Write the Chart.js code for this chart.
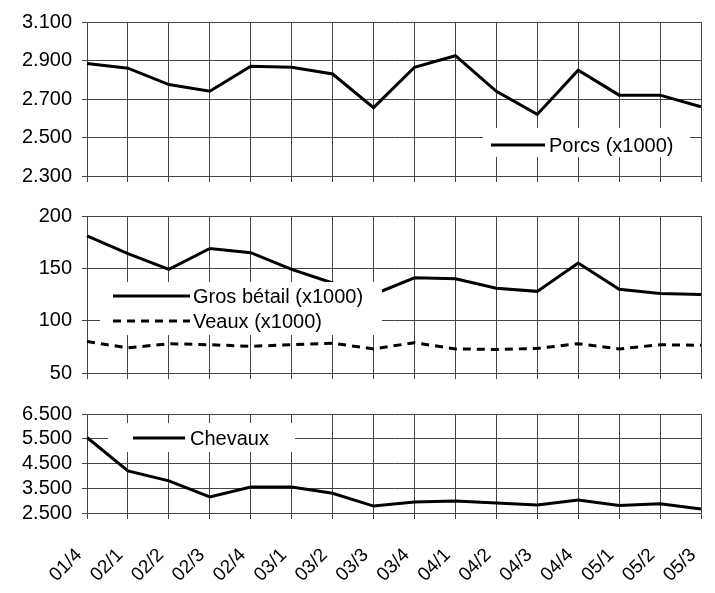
<!DOCTYPE html>
<html>
<head>
<meta charset="utf-8">
<script src="https://cdn.jsdelivr.net/npm/chart.js@4.4.1/dist/chart.umd.min.js"></script>
<style>
  body { margin: 0; background: #fff; }
  #wrap { position: relative; width: 715px; height: 593px; }
  canvas { position: absolute; left: 0; top: 0; }
</style>
</head>
<body>
<div id="wrap">
  <canvas id="cPorcs" width="715" height="593"></canvas>
  <canvas id="cBovins" width="715" height="593"></canvas>
  <canvas id="cChevaux" width="715" height="593"></canvas>
</div>
<script>
const trimestres = ['01/4', '02/1', '02/2', '02/3', '02/4', '03/1', '03/2', '03/3',
                    '03/4', '04/1', '04/2', '04/3', '04/4', '05/1', '05/2', '05/3'];

const porcs = [2885, 2860, 2775, 2740, 2870, 2865, 2830, 2655, 2865, 2925, 2740, 2620, 2850, 2720, 2720, 2660];
const grosBetail = [181, 164, 149, 169, 165, 149, 136, 125, 141, 140, 131, 128, 155, 130, 126, 125];
const veaux = [80, 74, 78, 77, 75.5, 77, 78.5, 73, 79, 73, 72.5, 73.5, 78, 73, 77, 76.5];
const chevaux = [5550, 4200, 3800, 3150, 3550, 3550, 3300, 2780, 2940, 2980, 2900, 2820, 3020, 2800, 2870, 2660];

const police = '"Liberation Sans", Arial, sans-serif';
const gris = '#444';

// separateur de milliers a la francaise/belge : 3.100
function milliers(v) {
  return String(v).replace(/\B(?=(\d{3})+(?!\d))/g, '.');
}

// legende dessinee dans un cadre blanc, par-dessus les courbes
const legendeCadre = {
  id: 'legendeCadre',
  afterDatasetsDraw(chart, args, opts) {
    const ctx = chart.ctx;
    ctx.save();
    ctx.fillStyle = '#fff';
    ctx.fillRect(opts.box[0], opts.box[1], opts.box[2], opts.box[3]);
    ctx.font = '20px ' + police;
    ctx.textBaseline = 'middle';
    chart.data.datasets.forEach((ds, i) => {
      const y = opts.rows[i];
      ctx.beginPath();
      ctx.setLineDash(ds.borderDash || []);
      ctx.lineWidth = ds.borderWidth;
      ctx.strokeStyle = ds.borderColor;
      ctx.moveTo(opts.line[0], y);
      ctx.lineTo(opts.line[1], y);
      ctx.stroke();
      ctx.setLineDash([]);
      ctx.fillStyle = '#000';
      ctx.fillText(ds.label, opts.textX, y + 1);
    });
    ctx.restore();
  }
};

function serie(label, data, dash) {
  return {
    label: label,
    data: data,
    borderColor: '#000',
    borderWidth: 3,
    borderDash: dash || [],
    pointRadius: 0,
    tension: 0,
    fill: false
  };
}

function panneau(id, datasets, yMin, yMax, pas, padTop, padBottom, avecEtiquettes, legende) {
  new Chart(document.getElementById(id), {
    type: 'line',
    data: { labels: trimestres, datasets: datasets },
    plugins: [legendeCadre],
    options: {
      responsive: false,
      animation: false,
      layout: { padding: { top: padTop, bottom: padBottom, left: 0, right: 14 } },
      plugins: {
        legend: { display: false },
        tooltip: { enabled: false },
        legendeCadre: legende
      },
      scales: {
        x: {
          offset: false,
          grid: { color: gris, lineWidth: 1, tickLength: 6 },
          border: { color: gris },
          ticks: {
            display: avecEtiquettes,
            autoSkip: false,
            maxRotation: 45,
            minRotation: 45,
            padding: 25,
            labelOffset: -8,
            color: '#000',
            font: { family: police, size: 19 }
          },
          afterFit(scale) {
            scale.height = avecEtiquettes ? 80 : 6;
            // les trois panneaux gardent la meme largeur de trace
            scale.paddingLeft = 0;
            scale.paddingRight = 0;
          }
        },
        y: {
          min: yMin,
          max: yMax,
          grid: { color: gris, lineWidth: 1, tickLength: 5 },
          border: { color: gris },
          ticks: {
            stepSize: pas,
            autoSkip: false,
            padding: 10,
            color: '#000',
            font: { family: police, size: 20 },
            callback: v => milliers(v)
          },
          afterFit(scale) { scale.width = 87; }
        }
      }
    }
  });
}

panneau('cPorcs', [serie('Porcs (x1000)', porcs)], 2300, 3100, 200, 17, 593 - 176 - 6, false,
  { box: [483, 128, 207, 29], line: [491, 545], textX: 549, rows: [145] });

panneau('cBovins', [serie('Gros bétail (x1000)', grosBetail), serie('Veaux (x1000)', veaux, [8, 6])],
  50, 200, 50, 216, 593 - 373 - 6, false,
  { box: [100, 282, 282, 53], line: [113, 190], textX: 193, rows: [296, 321] });

panneau('cChevaux', [serie('Chevaux', chevaux)], 2500, 6500, 1000, 414, 593 - 513 - 80, true,
  { box: [108, 423, 187, 29], line: [133, 185], textX: 190, rows: [438] });
</script>
</body>
</html>
